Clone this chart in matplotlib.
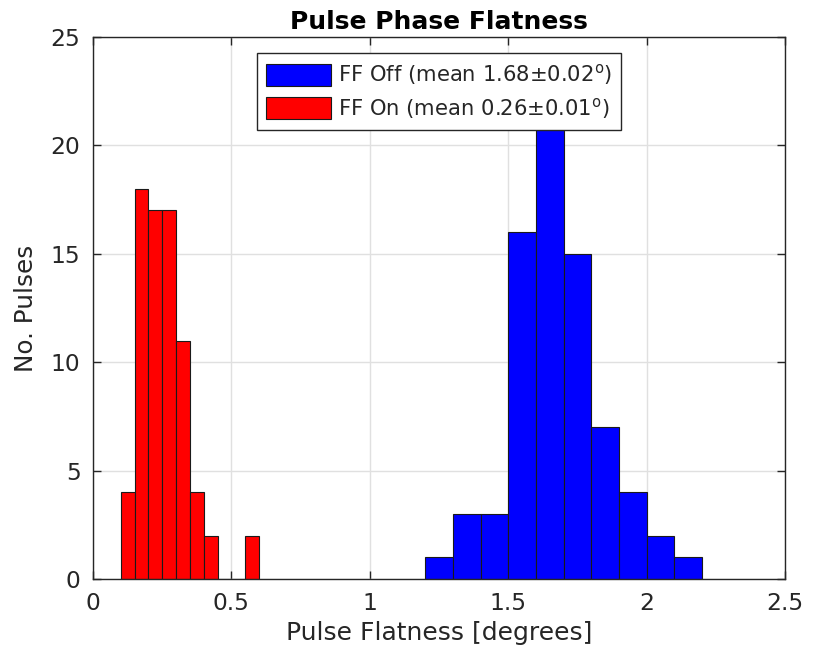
import matplotlib
matplotlib.use("Agg")
import matplotlib.pyplot as plt

# Histogram bin edges and counts
ff_off_edges = [1.2, 1.3, 1.4, 1.5, 1.6, 1.7, 1.8, 1.9, 2.0, 2.1, 2.2]
ff_off_counts = [1, 3, 3, 16, 23, 15, 7, 4, 2, 1]
ff_on_edges = [0.10, 0.15, 0.20, 0.25, 0.30, 0.35, 0.40, 0.45, 0.50, 0.55, 0.60]
ff_on_counts = [4, 18, 17, 17, 11, 4, 2, 0, 0, 2]

ff_off_label = "FF Off (mean 1.68\u00b10.02$^{\\mathrm{o}}$)"
ff_on_label = "FF On (mean 0.26\u00b10.01$^{\\mathrm{o}}$)"

x_ticks = [0, 0.5, 1, 1.5, 2, 2.5]
x_tick_labels = ["0", "0.5", "1", "1.5", "2", "2.5"]
y_ticks = [0, 5, 10, 15, 20, 25]

plt.rcParams["font.family"] = ["DejaVu Sans"]
dark = "#262626"

fig = plt.figure(figsize=(8.17, 6.51), dpi=100)
ax = fig.add_axes([93 / 817, 1 - 579 / 651, (785 - 93) / 817, (579 - 37) / 651])


def draw_hist(edges, counts, color, label):
    lefts = edges[:-1]
    widths = [b - a for a, b in zip(edges[:-1], edges[1:])]
    return ax.bar(lefts, counts, width=widths, align="edge", color=color,
                  edgecolor="#1a1a1a", linewidth=0.8, label=label, zorder=2)


draw_hist(ff_off_edges, ff_off_counts, "#0000ff", ff_off_label)
draw_hist(ff_on_edges, ff_on_counts, "#ff0000", ff_on_label)

ax.set_xlim(0, 2.5)
ax.set_ylim(0, 25)
ax.set_xticks(x_ticks)
ax.set_xticklabels(x_tick_labels)
ax.set_yticks(y_ticks)
ax.set_axisbelow(True)
ax.grid(True, color="#e0e0e0", linewidth=1.0, zorder=0)

for s in ax.spines.values():
    s.set_color(dark)
    s.set_linewidth(1.0)
ax.tick_params(direction="in", length=6, width=1.0, color=dark,
               top=True, right=True, labelsize=16.8, labelcolor=dark, pad=9)

ax.set_xlabel("Pulse Flatness [degrees]", fontsize=18, color=dark, labelpad=5)
ax.set_ylabel("No. Pulses", fontsize=17.8, color=dark, labelpad=9)
ax.set_title("Pulse Phase Flatness", fontsize=18, fontweight="bold", color="black", pad=6)

leg = ax.legend(loc="upper center", bbox_to_anchor=(0.5, 1 - 16 / 542),
                fontsize=15.2, frameon=True, fancybox=False, framealpha=1,
                edgecolor=dark, handlelength=3.05, handleheight=1.24,
                handletextpad=0.33, borderaxespad=0, borderpad=0.45,
                labelspacing=0.38)
leg.get_frame().set_linewidth(1.0)
leg.set_zorder(5)
for t in leg.get_texts():
    t.set_color(dark)

fig.savefig("out.png", dpi=100, facecolor="white")
